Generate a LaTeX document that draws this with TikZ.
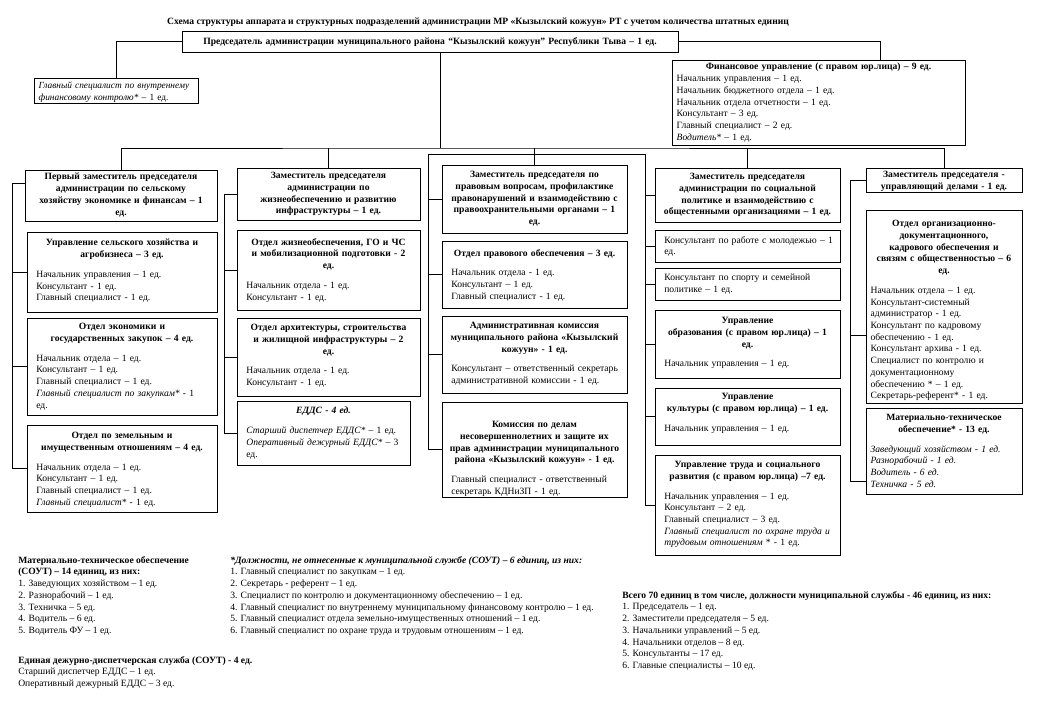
\documentclass[tikz,border=0pt]{standalone}
\usepackage{fontspec}
\setmainfont{Liberation Serif}
\newcommand\fs{\fontsize{7.2}{8.8}\selectfont}
\tikzset{
 bx/.style={draw, line width=0.7pt, inner sep=0pt, outer sep=0pt, anchor=north west},
 tx/.style={anchor=north, inner sep=0pt, align=left, font=\fs},
 plain/.style={anchor=north west, inner sep=0pt, align=left, font=\fs},
 ln/.style={line width=0.7pt},
}
\newcommand\orgbox[7]{%
 \pgfmathsetmacro\obtw{#4*0.75-7}%
 \node[bx, minimum width=#4*0.75pt, minimum height=#5*0.75pt] (#1) at (#2,#3) {};
 \node[tx, text width=\obtw pt] (#1-t) at ([yshift=-#6*0.75pt]#1.north) {#7\par};
}
\newcommand\ttl[1]{{\centering\bfseries #1\par}}
\newcommand\gap{\vspace{6pt}\leftskip=3.5pt\relax}
\newcommand\gapb{\vspace{6pt}}
\newcommand\ind{\leftskip=3.5pt\relax}
\begin{document}
\begin{tikzpicture}[x=0.75pt,y=-0.75pt]
\fill[white] (0,0) rectangle (1040,720);
\useasboundingbox (0,0) rectangle (1040,720);

\node[font=\fs\bfseries, inner sep=0pt] (title) at (478,22) {Схема структуры аппарата и структурных подразделений администрации МР «Кызылский кожуун» РТ с учетом количества штатных единиц};

% top level
\orgbox{ch}{182}{31}{496}{21}{6}{\ttl{Председатель администрации муниципального района “Кызылский кожуун” Республики Тыва – 1 ед.}}
\orgbox{ic}{34}{78}{164}{25}{4}{{\fontsize{7}{8.6}\selectfont\textit{Главный специалист по внутреннему\\ финансовому контролю*} – 1 ед.\par}}
\orgbox{fin}{672}{60}{293}{85}{3}{\ttl{Финансовое управление (с правом юр.лица) – 9 ед.}
Начальник управления – 1 ед.\\ Начальник бюджетного отдела – 1 ед.\\ Начальник отдела отчетности – 1 ед.\\ Консультант – 3 ед.\\ Главный специалист – 2 ед.\\ \textit{Водитель*} – 1 ед.}

% column 1
\orgbox{d1}{25}{170}{192}{51}{3}{\ttl{Первый заместитель председателя\\ администрации по сельскому\\ хозяйству экономике и финансам – 1\\ ед.}}
\orgbox{b12}{27}{232}{190}{80}{7}{\ttl{Управление сельского хозяйства и\\ агробизнеса – 3 ед.}\gap
Начальник управления – 1 ед.\\ Консультант - 1 ед.\\ Главный специалист - 1 ед.}
\orgbox{b13}{27}{318}{190}{97}{5}{\ttl{Отдел экономики и\\ государственных закупок – 4 ед.}\gap
Начальник отдела – 1 ед.\\ Консультант – 1 ед.\\ Главный специалист – 1 ед.\\ \textit{Главный специалист по закупкам*} - 1\\ ед.}
\orgbox{b14}{27}{425}{190}{87}{7}{\ttl{Отдел по земельным и\\ имущественным отношениям – 4 ед.}\gap
Начальник отдела – 1 ед.\\ Консультант – 1 ед.\\ Главный специалист – 1 ед.\\ \textit{Главный специалист*} - 1 ед.}

% column 2
\orgbox{d2}{237}{168}{183}{52}{4}{\ttl{Заместитель председателя\\ администрации по\\ жизнеобеспечению и развитию\\ инфраструктуры – 1 ед.}}
\orgbox{b22}{237}{230}{183}{80}{8}{\ttl{Отдел жизнеобеспечения, ГО и ЧС\\ и мобилизационной подготовки - 2\\ ед.}\gap
Начальник отдела - 1 ед.\\ Консультант - 1 ед.}
\orgbox{b23}{237}{318}{183}{78}{6}{\ttl{Отдел архитектуры, строительства\\ и жилищной инфраструктуры – 2\\ ед.}\gap
Начальник отдела - 1 ед.\\ Консультант - 1 ед.}
\orgbox{b24}{237}{401}{173}{64}{6}{\ttl{\itshape ЕДДС - 4 ед.}\gap
\textit{Старший диспетчер ЕДДС*} – 1 ед.\\ \textit{Оперативный дежурный ЕДДС*} – 3\\ ед.}

% column 3
\orgbox{d3}{442}{165}{185}{68}{6}{\ttl{Заместитель председателя по\\ правовым вопросам, профилактике\\ правонарушений и взаимодействию с\\ правоохранительными органами – 1\\ ед.}}
\orgbox{b32}{442}{241}{185}{67}{8}{\ttl{Отдел правового обеспечения – 3 ед.}\gap
Начальник отдела - 1 ед.\\ Консультант – 1 ед.\\ Главный специалист - 1 ед.}
\orgbox{b33}{442}{316}{185}{77}{6}{\ttl{Административная комиссия\\ муниципального района «Кызылский\\ кожуун» - 1 ед.}\gap
Консультант – ответственный секретарь\\ административной комиссии - 1 ед.}
\orgbox{b34}{442}{402}{185}{95}{19}{\ttl{Комиссия по делам\\ несовершеннолетних и защите их\\ прав администрации муниципального\\ района «Кызылский кожуун» - 1 ед.}\gap
Главный специалист - ответственный\\ секретарь КДНиЗП - 1 ед.}

% column 4
\orgbox{d4}{655}{168}{185}{54}{5}{\ttl{Заместитель председателя\\ администрации по социальной\\ политике и взаимодействию с\\ общестенными организациями – 1 ед.}}
\orgbox{b42}{655}{230}{185}{32}{6}{\ind Консультант по работе с молодежью – 1\\ ед.}
\orgbox{b43}{655}{268}{185}{32}{6}{\ind Консультант по спорту и семейной\\ политике – 1 ед.}
\orgbox{b44}{655}{310}{185}{68}{7}{\ttl{Управление\\ образования (с правом юр.лица) – 1\\ ед.}\gap
Начальник управления – 1 ед.}
\orgbox{b45}{655}{388}{185}{57}{5}{\ttl{Управление\\ культуры (с правом юр.лица) – 1 ед.}\gap
Начальник управления – 1 ед.}
\orgbox{b46}{655}{455}{185}{100}{6}{\ttl{Управление труда и социального\\ развития (с правом юр.лица) –7 ед.}\gap
Начальник управления – 1 ед.\\ Консультант – 2 ед.\\ Главный специалист – 3 ед.\\ \textit{Главный специалист по охране труда и\\ трудовым отношениям} * - 1 ед.}

% column 5
\orgbox{d5}{866}{168}{156}{24}{3}{\ttl{Заместитель председателя -\\ управляющий делами - 1 ед.}}
\orgbox{b52}{866}{210}{156}{193}{10}{\ttl{Отдел организационно-\\ документационного,\\ кадрового обеспечения и\\ связям с общественностью – 6\\ ед.}\gapb
Начальник отдела – 1 ед.\\ Консультант-системный\\ администратор - 1 ед.\\ Консультант по кадровому\\ обеспечению - 1 ед.\\ Консультант архива - 1 ед.\\ Специалист по контролю и\\ документационному\\ обеспечению * – 1 ед.\\ Секретарь-референт* - 1 ед.}
\orgbox{b53}{866}{408}{156}{86}{6}{\ttl{Материально-техническое\\ обеспечение* - 13 ед.}\gapb
\itshape Заведующий хозяйством - 1 ед.\\ Разнорабочий - 1 ед.\\ Водитель - 6 ед.\\ Техничка - 5 ед.}

% connectors
\coordinate (bc) at (440,148);
\coordinate (s1) at (12,0);
\coordinate (s2) at (224,0);
\coordinate (h3) at (428,154);
\coordinate (h4) at (645,154);
\coordinate (s5) at (850,0);
\coordinate (d1w) at ([yshift=9pt]d1.west);
\coordinate (b52w) at ([yshift=-22pt]b52.west);
\coordinate (b53w) at ([yshift=-23pt]b53.west);

\draw[ln] (ch.west) -| (ic.north);
\draw[ln] (ch.east) -| ([xshift=46.5pt]fin.north);
\draw[ln] (ch.south -| bc) -- (bc);
\draw[ln] (d1.north) |- (bc) -| (d5.north);
\draw[ln] (d2.north) -- (d2.north |- bc);
\draw[ln] (d3.north) -- (d3.north |- bc);
\draw[ln] (d4.north) -- (d4.north |- bc);

\draw[ln] (d1w) -- (s1 |- d1w) -- (s1 |- b14.west) -- (b14.west);
\draw[ln] (b12.west) -- (s1 |- b12.west);
\draw[ln] (b13.west) -- (s1 |- b13.west);

\draw[ln] (d2.west) -- (s2 |- d2.west) -- (s2 |- b24.west) -- (b24.west);
\draw[ln] (b22.west) -- (s2 |- b22.west);
\draw[ln] (b23.west) -- (s2 |- b23.west);

\draw[ln] (h4) -- (h3) -- (h3 |- b34.west) -- (b34.west);
\draw[ln] (d3.west) -- (h3 |- d3.west);
\draw[ln] (b32.west) -- (h3 |- b32.west);
\draw[ln] (b33.west) -- (h3 |- b33.west);

\draw[ln] (h4) -- (h4 |- b46.west) -- (b46.west);
\draw[ln] (d4.west) -- (h4 |- d4.west);
\draw[ln] (b42.west) -- (h4 |- b42.west);
\draw[ln] (b43.west) -- (h4 |- b43.west);
\draw[ln] (b44.west) -- (h4 |- b44.west);
\draw[ln] (b45.west) -- (h4 |- b45.west);

\draw[ln] (d5.west) -- (s5 |- d5.west) -- (s5 |- b53w) -- (b53w);
\draw[ln] (b52w) -- (s5 |- b52w);

% notes
\node[plain] (n1) at (18,556) {\textbf{Материально-техническое обеспечение}\\ \textbf{(СОУТ) – 14 единиц, из них:}\\ 1. Заведующих хозяйством – 1 ед.\\ 2. Разнорабочий – 1 ед.\\ 3. Техничка – 5 ед.\\ 4. Водитель – 6 ед.\\ 5. Водитель ФУ – 1 ед.};
\node[plain] (n2) at (18,656) {\textbf{Единая дежурно-диспетчерская служба (СОУТ) - 4 ед.}\\ Старший диспетчер ЕДДС – 1 ед.\\ Оперативный дежурный ЕДДС – 3 ед.};
\node[plain] (n3) at (230,556) {\textbf{\textit{*Должности, не отнесенные к муниципальной службе (СОУТ) – 6 единиц, из них:}}\\ 1. Главный специалист по закупкам – 1 ед.\\ 2. Секретарь - референт – 1 ед.\\ 3. Специалист по контролю и документационному обеспечению – 1 ед.\\ 4. Главный специалист по внутреннему муниципальному финансовому контролю – 1 ед.\\ 5. Главный специалист отдела земельно-имущественных отношений – 1 ед.\\ 6. Главный специалист по охране труда и трудовым отношениям – 1 ед.};
\node[plain] (n4) at (622,591) {\textbf{Всего 70 единиц в том числе, должности муниципальной службы - 46 единиц, из них:}\\ 1. Председатель – 1 ед.\\ 2. Заместители председателя – 5 ед.\\ 3. Начальники управлений – 5 ед.\\ 4. Начальники отделов – 8 ед.\\ 5. Консультанты – 17 ед.\\ 6. Главные специалисты – 10 ед.};
\end{tikzpicture}
\end{document}
